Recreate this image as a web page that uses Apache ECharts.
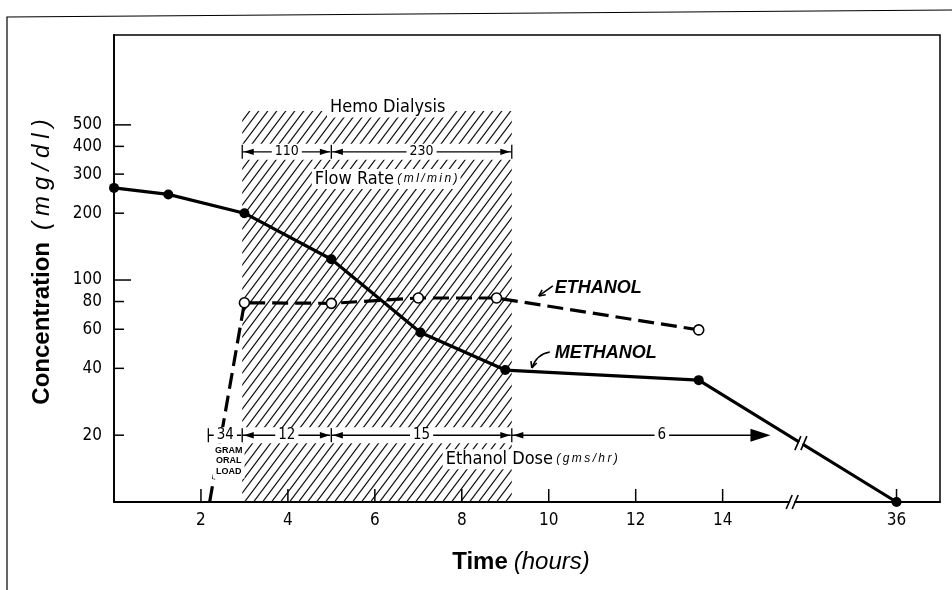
<!DOCTYPE html>
<html><head><meta charset="utf-8">
<script src="https://cdn.jsdelivr.net/npm/echarts@6/dist/echarts.min.js"></script>
<style>html,body{margin:0;padding:0;background:#fff}#c{width:952px;height:590px}</style>
</head><body><div id="c"></div><script>
// ---- data (x axis unit = hours; the broken axis draws 36 h at 18) ----
const xTickValues = [2, 4, 6, 8, 10, 12, 14, 18];
const xTickLabels = ['2', '4', '6', '8', '10', '12', '14', '36'];
const yTickValues = [20, 40, 60, 80, 100, 200, 300, 400, 500];
const yTickLabels = ['20', '40', '60', '80', '100', '200', '300', '400', '500'];
const yLongTicks = [100, 500];
const yMin = 10, yMax = 1270, xMin = 0, xMax = 19;

const methanolX = [0, 1.25, 3, 5, 7.05, 9, 13.45, 18];
const methanolY = [260, 243, 200, 124, 58, 39.3, 35.4, 10];
const ethanolX = [2.2, 3, 5, 7, 8.8, 13.45];
const ethanolY = [10, 79, 78.5, 83, 83, 59.6];

const dialysisStart = 2.95, dialysisEnd = 9.15, dialysisTop = 577;
const flowFrom = [2.95, 5], flowTo = [5, 9.15], flowLabels = ['110', '230'], flowRowY = 378;
const doseFrom = [2.17, 2.95, 5, 9.15], doseTo = [2.95, 5, 9.15, 15.1], doseLabels = ['34', '12', '15', '6'], doseRowY = 20;
const axisBreakX = 15.6, lineBreakX = 15.8;

const noteX = [4.9, 4.55, 7.56, 2.64, 10.14, 10.14];
const noteY = [598, 285, 15.6, 15.3, 92.1, 46.9];
const noteTexts = ['Hemo Dialysis', 'Flow Rate', 'Ethanol Dose', 'GRAM\nORAL\nLOAD', 'ETHANOL', 'METHANOL'];
const noteUnits = ['', '(ml/min)', '(gms/hr)', '', '', ''];

// ---- styling ----
const NARROW = '"Liberation Sans Narrow","DejaVu Sans Condensed",sans-serif';
const SANS = '"Liberation Sans",Arial,sans-serif';
const sp = s => s.split('').join('\u2009');

function makeHatch() {
  const w = 9, h = 12;
  const c = document.createElement('canvas'); c.width = w; c.height = h;
  const g = c.getContext('2d');
  g.strokeStyle = '#151515'; g.lineWidth = 1.25;
  g.beginPath();
  for (const k of [0, 1, 2]) { g.moveTo(w * (k + 1), -h); g.lineTo(w * (k - 2), 2 * h); }
  g.stroke();
  return c;
}
const hatchPattern = { image: makeHatch(), repeat: 'repeat' };

function line(x1, y1, x2, y2, w, color) {
  return { type: 'line', shape: { x1, y1, x2, y2 }, style: { stroke: color || '#000', lineWidth: w || 1.4 } };
}
function head(x, y, dir, len, half) {
  return { type: 'polygon', shape: { points: [[x, y], [x - dir * len, y - half], [x - dir * len, y + half]] }, style: { fill: '#000' } };
}
function openHead(tip, from, len) {
  const ang = Math.atan2(from[1] - tip[1], from[0] - tip[0]);
  const els = [];
  for (const d of [-0.45, 0.45]) {
    els.push(line(tip[0], tip[1], tip[0] + len * Math.cos(ang + d), tip[1] + len * Math.sin(ang + d), 1.6));
  }
  return els;
}
function breakMark(x, y) {
  const els = [];
  els.push({ type: 'polygon', shape: { points: [[x - 5, y + 7], [x + 1, y - 7], [x + 5, y - 7], [x - 1, y + 7]] }, style: { fill: '#fff' } });
  els.push(line(x - 6, y + 7, x, y - 7, 1.6));
  els.push(line(x, y + 7, x + 6, y - 7, 1.6));
  return els;
}
function segment(a, b, y, label, o) {
  const els = [];
  els.push({ type: 'rect', shape: { x: a - 1, y: y - 8, width: b - a + 2, height: 16 }, style: { fill: '#fff' } });
  els.push(line(a, y, o.bigRight ? b - 10 : b, y, 1.4));
  if (o.leftBar) els.push(line(a, y - 7, a, y + 7, 1.3));
  if (o.rightBar) els.push(line(b, y - 7, b, y + 7, 1.3));
  if (o.arrows) {
    els.push(head(a + 1.5, y, -1, 10, 3.2));
    els.push(o.bigRight ? head(b, y, 1, 20, 6.5) : head(b - 1.5, y, 1, 10, 3.2));
  }
  els.push({ type: 'text', x: a + (b - a) * (o.frac || 0.5), y: y, style: { text: label, align: 'center', verticalAlign: 'middle', textAlign: 'center', textVerticalAlign: 'middle', font: o.font, fill: '#000', backgroundColor: '#fff', padding: [0, 3] } });
  return els;
}

const chart = echarts.init(document.getElementById('c'), null, { renderer: 'canvas' });

const option = {
  animation: false,
  backgroundColor: '#fff',
  grid: { left: 114, right: 12, top: 35, bottom: 88, show: true, borderColor: '#000', borderWidth: 1.5 },
  xAxis: {
    type: 'value', min: xMin, max: xMax, interval: 2,
    axisLine: { show: true, onZero: false, lineStyle: { color: '#000', width: 2 } },
    axisTick: { show: false }, splitLine: { show: false },
    axisLabel: {
      margin: 10, color: '#000', fontFamily: NARROW, fontSize: 17,
      formatter: v => { const i = xTickValues.indexOf(v); return i < 0 ? '' : xTickLabels[i]; }
    }
  },
  yAxis: {
    type: 'log', logBase: 10, min: yMin, max: yMax,
    axisLine: { show: true, lineStyle: { color: '#000', width: 1.8 } },
    axisTick: { show: false }, axisLabel: { show: false }, splitLine: { show: false }
  },
  graphic: [
    { type: 'polyline', silent: true, shape: { points: [[7, 590], [7, 17], [952, 10]] }, style: { stroke: '#000', lineWidth: 1.2, fill: null } },
    { type: 'text', silent: true, x: 42, y: 262, rotation: Math.PI / 2,
      style: { text: '{a|Concentration}\u2002\u2002{b|' + '(mg/dl)'.split('').join('\u2005') + '}', textAlign: 'center', textVerticalAlign: 'middle', align: 'center', verticalAlign: 'middle', fill: '#000',
        rich: { a: { fontFamily: SANS, fontSize: 24, fontWeight: 'bold', fill: '#000' }, b: { fontFamily: SANS, fontSize: 24, fontStyle: 'italic', fill: '#000' } } } },
    { type: 'text', silent: true, x: 521, y: 562,
      style: { text: '{a|Time}\u2002{b|(hours)}', textAlign: 'center', textVerticalAlign: 'middle', align: 'center', verticalAlign: 'middle', fill: '#000',
        rich: { a: { fontFamily: SANS, fontSize: 24, fontWeight: 'bold', fill: '#000' }, b: { fontFamily: SANS, fontSize: 24, fontStyle: 'italic', fill: '#000' } } } }
  ],
  series: [
    { // hatched dialysis period
      type: 'custom', name: 'Hemo Dialysis', z: 1, silent: true, encode: { x: [0, 1], y: 2 },
      data: [[dialysisStart, dialysisEnd, dialysisTop]],
      renderItem: (p, api) => {
        const a = api.coord([api.value(0), api.value(2)]);
        const b = api.coord([api.value(1), yMin]);
        return { type: 'rect', shape: { x: a[0], y: a[1], width: b[0] - a[0], height: b[1] - a[1] }, style: { fill: hatchPattern } };
      }
    },
    { // y ticks + labels
      type: 'custom', name: 'yTicks', z: 2, silent: true, encode: { x: 0, y: 1 },
      data: yTickValues.map(v => [xMin, v]),
      renderItem: (p, api) => {
        const v = api.value(1), c = api.coord([xMin, v]);
        const len = yLongTicks.includes(v) ? 17 : 10;
        return { type: 'group', children: [
          line(c[0], c[1], c[0] + len, c[1], 1.5),
          { type: 'text', x: c[0] - 12, y: c[1], style: { text: yTickLabels[p.dataIndex], align: 'right', verticalAlign: 'middle', textAlign: 'right', textVerticalAlign: 'middle', font: '17px ' + NARROW, fill: '#000' } }
        ] };
      }
    },
    { // x ticks
      type: 'custom', name: 'xTicks', z: 2, silent: true, encode: { x: 0, y: 1 },
      data: xTickValues.map(v => [v, yMin]),
      renderItem: (p, api) => {
        const c = api.coord([api.value(0), yMin]);
        return line(c[0], c[1], c[0], c[1] - 13, 1.5);
      }
    },
    {
      type: 'line', name: 'METHANOL', z: 3, clip: false,
      data: methanolX.map((x, i) => [x, methanolY[i]]),
      symbol: 'circle', symbolSize: 10, showSymbol: true,
      lineStyle: { color: '#000', width: 3.2 }, itemStyle: { color: '#000' }
    },
    {
      type: 'line', name: 'ETHANOL', z: 3, clip: false,
      data: ethanolX.map((x, i) => i === 0 ? { value: [x, ethanolY[i]], symbol: 'none' } : [x, ethanolY[i]]),
      symbol: 'circle', symbolSize: 10, showSymbol: true,
      lineStyle: { color: '#000', width: 3.2, type: [16, 7] },
      itemStyle: { color: '#fff', borderColor: '#000', borderWidth: 1.6 }
    },
    { // axis breaks
      type: 'custom', name: 'breaks', z: 5, silent: true, encode: { x: 0, y: 1 },
      data: [[axisBreakX, yMin], [lineBreakX, yMin]],
      renderItem: (p, api) => {
        if (p.dataIndex === 0) {
          const c = api.coord([axisBreakX, yMin]);
          return { type: 'group', children: breakMark(c[0], c[1]) };
        }
        let k = 0; while (k < methanolX.length - 2 && methanolX[k + 1] < lineBreakX) k++;
        const p1 = api.coord([methanolX[k], methanolY[k]]), p2 = api.coord([methanolX[k + 1], methanolY[k + 1]]);
        const t = (lineBreakX - methanolX[k]) / (methanolX[k + 1] - methanolX[k]);
        return { type: 'group', children: breakMark(p1[0] + (p2[0] - p1[0]) * t, p1[1] + (p2[1] - p1[1]) * t) };
      }
    },
    { // flow-rate arrows
      type: 'custom', name: 'Flow Rate', z: 6, silent: true, encode: { x: [0, 1], y: 2 },
      data: flowFrom.map((x, i) => [x, flowTo[i], flowRowY]),
      renderItem: (p, api) => {
        const a = api.coord([api.value(0), api.value(2)]), b = api.coord([api.value(1), api.value(2)]);
        return { type: 'group', children: segment(a[0], b[0], a[1], flowLabels[p.dataIndex], { leftBar: true, rightBar: true, arrows: true, font: '14px ' + NARROW }) };
      }
    },
    { // ethanol-dose arrows
      type: 'custom', name: 'Ethanol Dose', z: 6, silent: true, encode: { x: [0, 1], y: 2 },
      data: doseFrom.map((x, i) => [x, doseTo[i], doseRowY]),
      renderItem: (p, api) => {
        const i = p.dataIndex, last = i === doseFrom.length - 1;
        const a = api.coord([api.value(0), api.value(2)]), b = api.coord([api.value(1), api.value(2)]);
        return { type: 'group', children: segment(a[0], b[0], a[1], doseLabels[i], { leftBar: true, rightBar: !last, arrows: i > 0, bigRight: last, frac: last ? 0.58 : 0.5, font: '15px ' + NARROW }) };
      }
    },
    { // text notes
      type: 'custom', name: 'notes', z: 7, silent: true, encode: { x: 0, y: 1 },
      data: noteX.map((x, i) => [x, noteY[i]]),
      renderItem: (p, api) => {
        const i = p.dataIndex, c = api.coord([api.value(0), api.value(1)]);
        const txt = noteTexts[i], unit = noteUnits[i];
        const base = { align: 'left', verticalAlign: 'middle', textAlign: 'left', textVerticalAlign: 'middle', fill: '#000' };
        if (i <= 2) {
          return { type: 'text', x: c[0], y: c[1], style: Object.assign({}, base, {
            text: unit ? '{a|' + txt + '} {b|' + sp(unit) + '}' : '{a|' + txt + '}',
            backgroundColor: '#fff', padding: [1, 3],
            rich: { a: { font: '18px ' + NARROW, fill: '#000' }, b: { font: 'italic 12px ' + SANS, fill: '#000' } } }) };
        }
        if (i === 3) {
          return { type: 'text', x: c[0], y: c[1], style: Object.assign({}, base, { text: txt, align: 'center', textAlign: 'center', font: 'bold 9px ' + SANS, lineHeight: 10.5, backgroundColor: '#fff', padding: [2, 2] }) };
        }
        const children = [{ type: 'text', x: c[0], y: c[1], style: Object.assign({}, base, { text: txt, font: 'italic bold 18px ' + SANS }) }];
        if (i === 4) {
          const from = [c[0] - 2, c[1] - 2], tip = [c[0] - 16, c[1] + 8];
          children.push(line(from[0], from[1], tip[0], tip[1], 1.6));
          children.push(...openHead(tip, from, 7));
        } else {
          const from = [c[0] - 5, c[1] - 1], tip = [c[0] - 23, c[1] + 15], cp = [c[0] - 18, c[1] + 1];
          children.push({ type: 'bezierCurve', shape: { x1: from[0], y1: from[1], x2: tip[0], y2: tip[1], cpx1: cp[0], cpy1: cp[1] }, style: { stroke: '#000', lineWidth: 1.6, fill: null } });
          children.push(...openHead(tip, [c[0] - 20, c[1] + 6], 7));
        }
        return { type: 'group', children };
      }
    }
  ]
};
chart.setOption(option);
</script></body></html>
